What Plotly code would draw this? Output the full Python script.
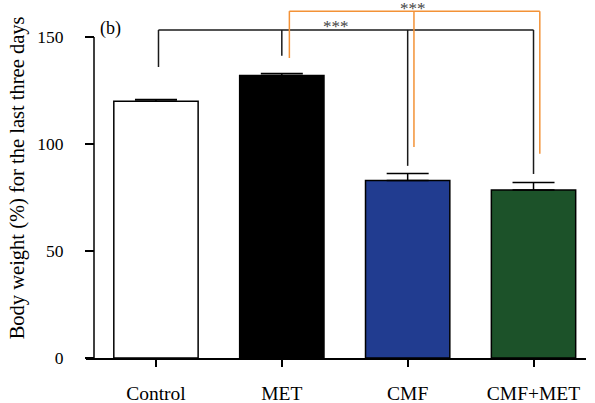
import plotly.graph_objects as go

categories = ["Control", "MET", "CMF", "CMF+MET"]
means = [120, 132, 83, 78.5]
errors = [0.8, 1.0, 3.2, 3.5]
bar_colors = ["#ffffff", "#000000", "#213c90", "#1c5229"]
y_ticks = [0, 50, 100, 150]

# significance brackets: leg x positions, leg bottoms, bracket top
black_bracket_x = [0.02, 1.0, 2.0, 3.0]
black_bracket_bottom = [136, 141.3, 89.8, 86]
black_bracket_top = 153.3
orange_bracket_x = [1.06, 2.05, 3.05]
orange_bracket_bottom = [140.2, 98.6, 95.4]
orange_bracket_top = 162.1

xpos = list(range(len(categories)))
SERIF = "Liberation Serif"

fig = go.Figure()
fig.add_trace(go.Bar(
    x=xpos, y=means, width=0.67,
    marker=dict(color=bar_colors, line=dict(color="black", width=1.5)),
    error_y=dict(type="data", symmetric=False, array=errors, arrayminus=[0]*4,
                 color="black", thickness=1.5, width=21),
    showlegend=False,
))

shapes = []
def bracket(xs, bottoms, top, color):
    out = [dict(type="line", xref="x", yref="y", x0=xs[0], x1=xs[-1], y0=top, y1=top,
                line=dict(color=color, width=1.5))]
    for xv, b in zip(xs, bottoms):
        out.append(dict(type="line", xref="x", yref="y", x0=xv, x1=xv, y0=b, y1=top,
                        line=dict(color=color, width=1.5)))
    return out

shapes += bracket(black_bracket_x, black_bracket_bottom, black_bracket_top, "#1a1a1a")
shapes += bracket(orange_bracket_x, orange_bracket_bottom, orange_bracket_top, "#f39237")
# y axis line (only up to 150)
shapes.append(dict(type="line", xref="paper", yref="y", x0=0.016, x1=0.016, y0=0, y1=150,
                   line=dict(color="black", width=1.5)))

annotations = [
    dict(text="***", x=1.43, y=155.0, xref="x", yref="y", showarrow=False,
         font=dict(family=SERIF, size=17, color="#444444")),
    dict(text="***", x=2.04, y=163.1, xref="x", yref="y", showarrow=False,
         font=dict(family=SERIF, size=17, color="#444444")),
    dict(text="(b)", x=-0.365, y=153.9, xref="x", yref="y", showarrow=False,
         font=dict(family=SERIF, size=18, color="black")),
    dict(text="Body weight (%) for the last three days", textangle=-90,
         x=-0.137, y=84.2, xref="paper", yref="y", xanchor="center", yanchor="middle",
         showarrow=False, font=dict(family=SERIF, size=20.5, color="black")),
]

fig.update_layout(
    width=595, height=403,
    margin=dict(l=86, r=9, t=0, b=45),
    paper_bgcolor="white", plot_bgcolor="white",
    shapes=shapes, annotations=annotations,
    xaxis=dict(range=[-0.556, 3.417], tickvals=xpos, ticktext=categories,
               showline=True, linecolor="black", linewidth=1.5,
               ticks="outside", ticklen=7, tickwidth=1.5, tickcolor="black",
               ticklabelstandoff=10,
               tickfont=dict(family=SERIF, size=19.5, color="black"),
               showgrid=False, zeroline=False),
    yaxis=dict(range=[0, 167.3], tickvals=y_ticks, anchor="free", position=0.016,
               showline=False, ticks="outside", ticklen=9, tickwidth=1.5, tickcolor="black",
               ticklabelstandoff=18,
               tickfont=dict(family=SERIF, size=17.5, color="black"),
               showgrid=False, zeroline=False),
)

fig.write_html("out.html")
